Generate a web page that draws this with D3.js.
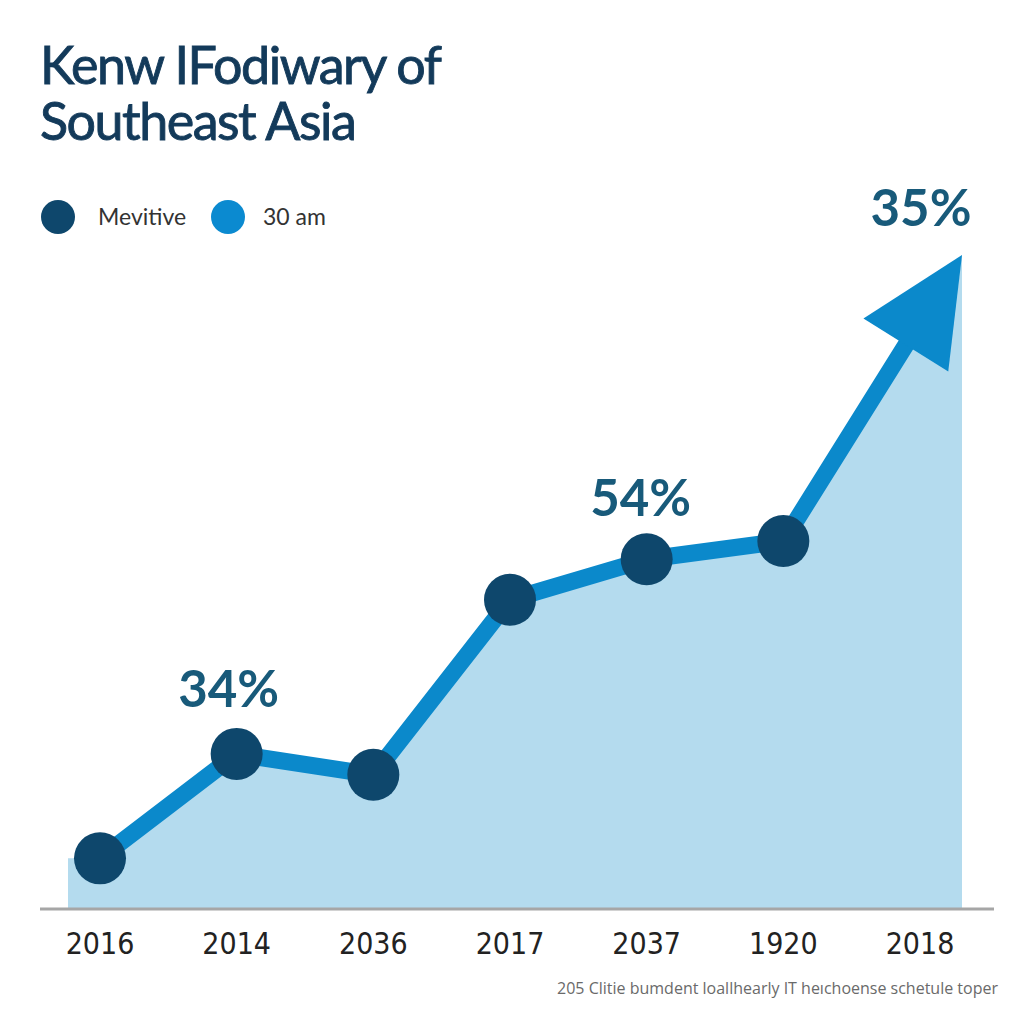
<!DOCTYPE html>
<html>
<head>
<meta charset="utf-8">
<script src="https://cdn.jsdelivr.net/npm/d3@7"></script>
<style>
  html, body { margin: 0; padding: 0; background: #ffffff; }
  svg { display: block; }
</style>
</head>
<body>
<svg id="chart" width="1024" height="1024"></svg>
<script>
// ---- data ----
const categories = ["2016", "2014", "2036", "2017", "2037", "1920", "2018"];
const values = [7.6, 23.6, 20.4, 47.2, 53.4, 56.2, 100];
const valueLabels = [null, "34%", null, null, "54%", null, "35%"];
const legendLabels = ["Mevitive", "30 am"];
const titleLines = ["Kenw IFodiwary of", "Southeast Asia"];
const footnote = "205 Clitie bumdent loallhearly IT heıchoense schetule toper";

// ---- style ----
const colors = {
  title: "#133a5a",
  dot: "#0e476c",
  line: "#0b89cb",
  area: "#b4dbee",
  label: "#185a7a",
  axis: "#a6a6a6",
  tick: "#222222",
  foot: "#6a6a6a"
};

const svg = d3.select("#chart");

const x = d3.scalePoint().domain(categories).range([100, 920]);
const y = d3.scaleLinear().domain([0, 100]).range([908, 255]);

// positions (last point is the arrow tip, drawn past its category)
const pts = categories.map((c, i) => ({
  c, v: values[i],
  px: x(c) + (i === categories.length - 1 ? 42 : 0),
  py: y(values[i])
}));

// ---- area ----
const areaData = [{px: 68, py: pts[0].py}, ...pts];
svg.append("path")
  .datum(areaData)
  .attr("fill", colors.area)
  .attr("d", d3.area().x(d => d.px).y0(y(0)).y1(d => d.py));

// ---- line with arrow ----
const tip = pts[pts.length - 1];
const prev = pts[pts.length - 2];
const dx = tip.px - prev.px, dy = tip.py - prev.py;
const len = Math.hypot(dx, dy);
const ux = dx / len, uy = dy / len;
const headLen = 106, headHalf = 50;
const base = {px: tip.px - ux * headLen, py: tip.py - uy * headLen};
const lineData = [...pts.slice(0, -1), {px: tip.px - ux * (headLen - 10), py: tip.py - uy * (headLen - 10)}];

svg.append("path")
  .datum(lineData)
  .attr("fill", "none")
  .attr("stroke", colors.line)
  .attr("stroke-width", 17)
  .attr("stroke-linejoin", "round")
  .attr("d", d3.line().x(d => d.px).y(d => d.py));

const nx = -uy, ny = ux;
svg.append("path")
  .attr("fill", colors.line)
  .attr("d", d3.line()([
    [tip.px, tip.py],
    [base.px + nx * headHalf, base.py + ny * headHalf],
    [base.px - nx * headHalf, base.py - ny * headHalf]
  ]) + "Z");

// ---- dots ----
svg.append("g").selectAll("circle")
  .data(pts.slice(0, -1))
  .join("circle")
  .attr("cx", d => d.px)
  .attr("cy", d => d.py)
  .attr("r", 26)
  .attr("fill", colors.dot);

// ---- value labels ----
const labelOffsets = [null, {dx: -8, dy: -47}, null, null, {dx: -6, dy: -43}, null, {dx: -41, dy: -29}];
svg.append("g").selectAll("text")
  .data(pts.map((p, i) => ({...p, t: valueLabels[i], o: labelOffsets[i]})).filter(d => d.t))
  .join("text")
  .attr("x", d => d.px + d.o.dx)
  .attr("y", d => d.py + d.o.dy)
  .attr("text-anchor", "middle")
  .attr("font-family", "Lato, 'Open Sans', sans-serif")
  .attr("font-weight", 700)
  .attr("font-size", 51)
  .attr("fill", colors.label)
  .text(d => d.t);

// ---- axis ----
svg.append("line")
  .attr("x1", 40).attr("x2", 994)
  .attr("y1", y(0) + 1).attr("y2", y(0) + 1)
  .attr("stroke", colors.axis)
  .attr("stroke-width", 3);

svg.append("g").selectAll("text")
  .data(categories)
  .join("text")
  .attr("x", d => x(d))
  .attr("y", 954)
  .attr("text-anchor", "middle")
  .attr("font-family", "'Liberation Sans Narrow', 'DejaVu Sans Condensed', sans-serif")
  .attr("font-size", 30)
  .attr("fill", colors.tick)
  .text(d => d);

// ---- title ----
svg.append("g").selectAll("text")
  .data(titleLines)
  .join("text")
  .attr("x", 40)
  .attr("y", (d, i) => 84 + i * 56)
  .attr("font-family", "Lato, 'Open Sans', sans-serif")
  .attr("font-size", 52)
  .attr("letter-spacing", -1.5)
  .attr("fill", colors.title)
  .attr("stroke", colors.title)
  .attr("stroke-width", 0.9)
  .text(d => d);

// ---- legend ----
const legendColors = [colors.dot, "#0b8ad0"];
const legendX = [58, 228];
const lg = svg.append("g");
lg.selectAll("circle")
  .data(legendLabels)
  .join("circle")
  .attr("cx", (d, i) => legendX[i])
  .attr("cy", 217)
  .attr("r", 17)
  .attr("fill", (d, i) => legendColors[i]);
lg.selectAll("text")
  .data(legendLabels)
  .join("text")
  .attr("x", (d, i) => legendX[i] + (i === 0 ? 40 : 35))
  .attr("y", 225)
  .attr("font-family", "Lato, 'Open Sans', sans-serif")
  .attr("font-size", 23)
  .attr("fill", "#333333")
  .text(d => d);

// ---- footnote ----
svg.append("text")
  .attr("x", 998)
  .attr("y", 994)
  .attr("text-anchor", "end")
  .attr("font-family", "'Open Sans', sans-serif")
  .attr("font-size", 16)
  .attr("fill", colors.foot)
  .text(footnote);
</script>
</body>
</html>
